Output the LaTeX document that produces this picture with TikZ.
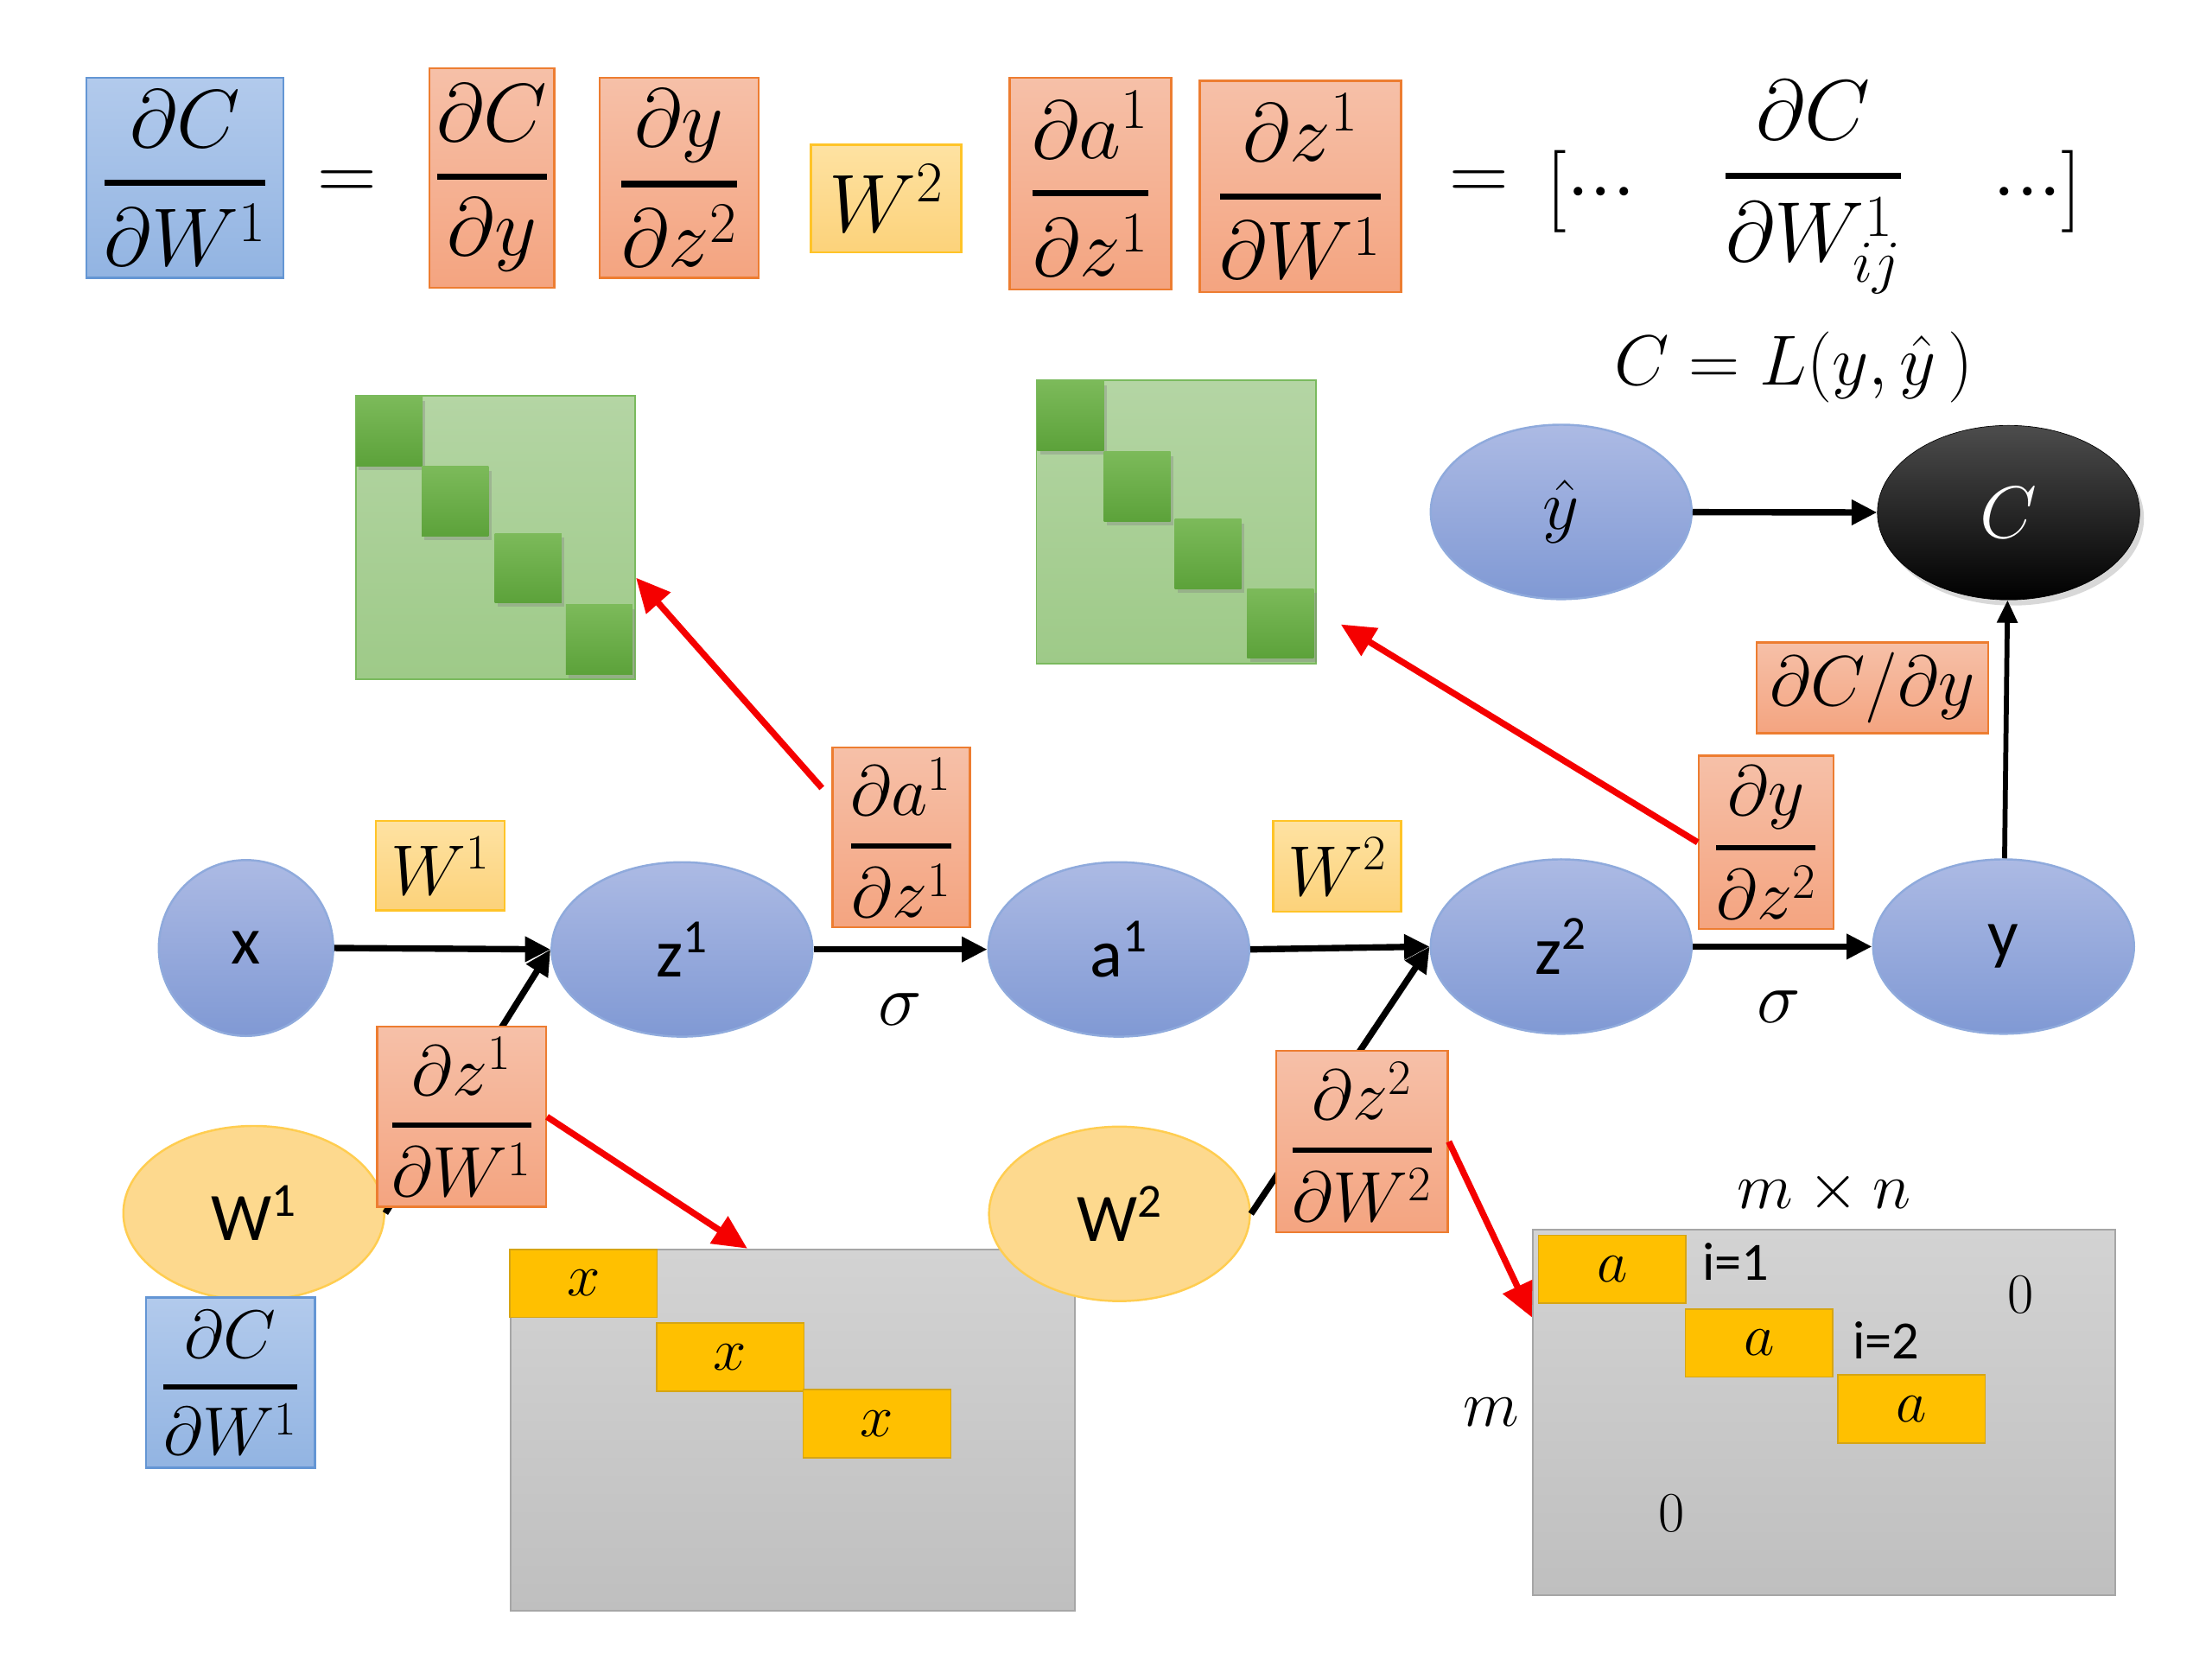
\RequirePackage{fix-cm}
\documentclass[tikz,border=0pt]{standalone}
\usepackage{amsmath}
\usepackage{fontspec}
\newfontfamily\calibri{Carlito}
\usepackage{tikz}
\usetikzlibrary{positioning,shapes.geometric,shadows,arrows.meta}

\definecolor{blueTop}{RGB}{178,202,236}
\definecolor{blueBot}{RGB}{146,180,226}
\definecolor{blueLine}{RGB}{100,150,212}
\definecolor{orangeTop}{RGB}{246,192,168}
\definecolor{orangeBot}{RGB}{244,164,128}
\definecolor{orangeLine}{RGB}{237,125,49}
\definecolor{yellowTop}{RGB}{254,226,162}
\definecolor{yellowBot}{RGB}{252,210,122}
\definecolor{yellowLine}{RGB}{255,196,40}
\definecolor{neuronTop}{RGB}{172,186,228}
\definecolor{neuronBot}{RGB}{128,153,212}
\definecolor{neuronLine}{RGB}{143,170,220}
\definecolor{weightFill}{RGB}{253,217,142}
\definecolor{weightLine}{RGB}{255,205,80}
\definecolor{greenTop}{RGB}{180,213,164}
\definecolor{greenBot}{RGB}{158,202,136}
\definecolor{greenLine}{RGB}{122,186,94}
\definecolor{cellGreenTop}{RGB}{124,186,90}
\definecolor{cellGreenBot}{RGB}{92,162,58}
\definecolor{grayTop}{RGB}{211,211,211}
\definecolor{grayBot}{RGB}{191,191,191}
\definecolor{grayLine}{RGB}{166,166,166}
\definecolor{cellYellow}{RGB}{255,192,0}
\definecolor{cellYellowLine}{RGB}{214,165,20}
\definecolor{arrowRed}{RGB}{245,0,0}

\newcommand{\fsz}[1]{\fontsize{#1}{#1}\selectfont}
\newcommand{\pfrac}[2]{\genfrac{}{}{0.075em}{0}{#1}{#2}}
\newcommand{\tightdots}{{\cdot}{\cdot}{\cdot}}

\begin{document}
\begin{tikzpicture}[x=1pt, y=-1pt]
	\tikzset{
		bluebox/.style={rectangle, draw=blueLine, top color=blueTop, bottom color=blueBot, line width=1.5pt, inner sep=0pt},
		orangebox/.style={rectangle, draw=orangeLine, top color=orangeTop, bottom color=orangeBot, line width=1.5pt, inner sep=0pt},
		yellowbox/.style={rectangle, draw=yellowLine, top color=yellowTop, bottom color=yellowBot, line width=1.5pt, inner sep=0pt},
		neuron/.style={ellipse, draw=neuronLine, top color=neuronTop, bottom color=neuronBot, line width=1.5pt, minimum width=184pt, minimum height=123pt, inner sep=0pt, font=\calibri\fsz{48}},
		weight/.style={ellipse, draw=weightLine, fill=weightFill, line width=1.5pt, minimum width=184pt, minimum height=123pt, inner sep=0pt, font=\calibri\fsz{48}},
		lossnode/.style={ellipse, draw=black, top color=black!70, bottom color=black, minimum width=185pt, minimum height=123pt, inner sep=0pt, text=white, font=\fsz{52}, drop shadow={shadow xshift=3pt, shadow yshift=-4pt, opacity=0.3}},
		greenmat/.style={rectangle, draw=greenLine, top color=greenTop, bottom color=greenBot, line width=1pt, minimum width=197pt, minimum height=200pt, inner sep=0pt},
		greencell/.style={rectangle, top color=cellGreenTop, bottom color=cellGreenBot, minimum width=47pt, minimum height=49pt, inner sep=0pt, drop shadow={shadow xshift=2pt, shadow yshift=-3pt, opacity=0.35}},
		graymat/.style={rectangle, draw=grayLine, top color=grayTop, bottom color=grayBot, line width=1.2pt, inner sep=0pt},
		yellowcell/.style={rectangle, draw=cellYellowLine, fill=cellYellow, line width=1pt, minimum width=104pt, minimum height=48pt, inner sep=0pt, font=\fsz{42}},
		mylabel/.style={inner sep=0pt},
		myarrow/.style={-{Triangle[length=18pt, width=17pt]}, line width=4.5pt},
		myarrow1/.style={-{Triangle[length=16pt, width=14pt]}, line width=3.5pt},
		redarrow/.style={-{Triangle[length=24pt, width=22pt]}, line width=4.5pt, draw=arrowRed, color=arrowRed}
	}
	\useasboundingbox[fill=white] (0,0) rectangle (1560,1170);

	% matrices
	\node[greenmat] (greenL) at (349.5,379) {};
	\node[greencell] (gl1) at (274.5,304) {};
	\node[greencell] (gl2) at (321,353.5) {};
	\node[greencell] (gl3) at (372.5,400.5) {};
	\node[greencell] (gl4) at (422.5,451) {};
	\node[greenmat] (greenR) at (829.5,368) {};
	\node[greencell] (gr1) at (755,293) {};
	\node[greencell] (gr2) at (802,343) {};
	\node[greencell] (gr3) at (852,390.5) {};
	\node[greencell] (gr4) at (903,439.5) {};

	\node[graymat, minimum width=398pt, minimum height=255pt] (grayL) at (559,1008.5) {};
	\node[yellowcell] (cellX1) at (411.5,905) {$x$};
	\node[yellowcell] (cellX2) at (515,957) {$x$};
	\node[yellowcell] (cellX3) at (618.5,1004) {$x$};
	\node[graymat, minimum width=411pt, minimum height=258pt] (grayR) at (1286.5,996) {};
	\node[yellowcell] (cellA1) at (1137,895) {$a$};
	\node[yellowcell] (cellA2) at (1240.5,947) {$a$};
	\node[yellowcell] (cellA3) at (1348,993.5) {$a$};
	\node[mylabel, font=\calibri\fsz{38}] (iOne) at (1224,890) {i=1};
	\node[mylabel, font=\calibri\fsz{38}] (iTwo) at (1330,945) {i=2};
	\node[mylabel, font=\fsz{40}] (zeroUp) at (1425,913) {0};
	\node[mylabel, font=\fsz{40}] (zeroLow) at (1179,1067) {0};
	\node[mylabel, font=\fsz{46}, above=10pt of grayR] (mn) {$m\times n$};
	\node[mylabel, font=\fsz{46}, left=9pt of grayR] (rows) {$m$};

	% graph
	\node[neuron, minimum width=123pt, minimum height=124pt] (nodeX) at (173.5,668.5) {x};
	\node[neuron] (z1) at (481,669.5) {z\textsuperscript{1}};
	\node[neuron] (a1) at (789,669.5) {a\textsuperscript{1}};
	\node[neuron] (z2) at (1101,667.5) {z\textsuperscript{2}};
	\node[neuron] (outY) at (1413,667.5) {y};
	\node[neuron, font=\fsz{50}] (yhat) at (1101,361) {$\hat{y}$};
	\node[lossnode] (C) at (1416.5,361.5) {$C$};
	\node[weight] (W1) at (179,855.5) {W\textsuperscript{1}};
	\node[weight] (W2) at (789.5,856) {W\textsuperscript{2}};

	\draw[myarrow] (nodeX.east) -- (z1.west);
	\draw[myarrow] (W1.east) -- (z1.west);
	\draw[myarrow] (z1.east) -- (a1.west);
	\draw[myarrow] (a1.east) -- (z2.west);
	\draw[myarrow] (W2.east) -- (z2.west);
	\draw[myarrow] (z2.east) -- (outY.west);
	\draw[myarrow] (yhat) -- (C);
	\draw[myarrow1] (outY) -- (C);

	\node[mylabel, font=\fsz{52}] (sigma1) at (635,712) {$\sigma$};
	\node[mylabel, font=\fsz{52}] (sigma2) at (1254.5,710) {$\sigma$};
	\node[mylabel, font=\fsz{50}] (loss) at (1265,259) {$C=L(y,\hat{y}\,)$};

	% equation
	\node[bluebox, minimum width=139pt, minimum height=141pt, font=\fsz{58}] (dCdW) at (130.5,125.5) {$\pfrac{\partial C}{\partial W^1}$};
	\node[mylabel, font=\fsz{58}] (eqA) at (245,131) {$=$};
	\node[orangebox, minimum width=88pt, minimum height=155pt, font=\fsz{58}] (dCdyTop) at (347,125.5) {$\pfrac{\partial C}{\partial y}$};
	\node[orangebox, minimum width=112pt, minimum height=141pt, font=\fsz{58}] (dydz2Top) at (479,125.5) {$\pfrac{\partial y}{\partial z^2}$};
	\node[yellowbox, minimum width=106pt, minimum height=76pt, font=\fsz{58}] (W2Top) at (625,140) {$W^2$};
	\node[orangebox, minimum width=114pt, minimum height=149pt, font=\fsz{58}] (da1dz1Top) at (769,129.5) {$\pfrac{\partial a^1}{\partial z^1}$};
	\node[orangebox, minimum width=142pt, minimum height=149pt, font=\fsz{58}] (dz1dW1Top) at (917,131.5) {$\pfrac{\partial z^1}{\partial W^1}$};
	\node[mylabel, font=\fsz{58}] (eqB) at (1043,131) {$=$};
	\node[mylabel, font=\fsz{58}] (lbrack) at (1122,135) {$[\tightdots$};
	\node[mylabel, font=\fsz{60}, anchor=base] (dCdWij) at (1279,139) {$\pfrac{\partial C}{\partial W^1_{ij}}$};
	\node[mylabel, font=\fsz{58}] (rbrack) at (1437,135) {$\tightdots]$};

	% labels on the graph
	\node[yellowbox, minimum width=91pt, minimum height=63pt, font=\fsz{50}] (W1lab) at (310.5,610.5) {$W^1$};
	\node[orangebox, minimum width=97pt, minimum height=127pt, font=\fsz{50}] (da1dz1) at (635.5,590.5) {$\pfrac{\partial a^1}{\partial z^1}$};
	\node[yellowbox, minimum width=90pt, minimum height=64pt, font=\fsz{50}] (W2lab) at (943,611) {$W^2$};
	\node[orangebox, minimum width=95pt, minimum height=122pt, font=\fsz{50}] (dydz2) at (1245.5,594) {$\pfrac{\partial y}{\partial z^2}$};
	\node[orangebox, minimum width=163pt, minimum height=64pt, font=\fsz{50}] (dCdy) at (1320.5,485) {$\partial C/\partial y$};
	\node[orangebox, minimum width=119pt, minimum height=127pt, font=\fsz{50}] (dz1dW1) at (325.5,787.5) {$\pfrac{\partial z^1}{\partial W^1}$};
	\node[orangebox, minimum width=121pt, minimum height=128pt, font=\fsz{50}] (dz2dW2) at (960.5,805) {$\pfrac{\partial z^2}{\partial W^2}$};
	\node[bluebox, minimum width=119pt, minimum height=120pt, font=\fsz{48}] (dCdWLow) at (162.5,975) {$\pfrac{\partial C}{\partial W^1}$};

	\draw[redarrow, shorten <=10pt] (da1dz1.151) -- (greenL.-16);
	\draw[redarrow, shorten >=20pt] (dydz2.west) -- (greenR.-32);
	\draw[redarrow] (dz1dW1.east) -- (grayL.104);
	\draw[redarrow] (dz2dW2.east) -- (grayR.162);
\end{tikzpicture}
\end{document}
